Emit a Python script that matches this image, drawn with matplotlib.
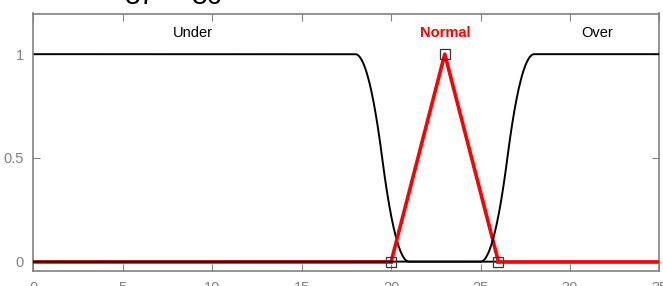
import matplotlib.pyplot as plt
import numpy as np

plt.rcParams['font.family'] = ['Liberation Sans', 'DejaVu Sans']

# membership function parameters
under_ab = [18, 21]        # zmf
normal_abc = [20, 23, 26]  # trimf
over_ab = [25, 28]         # smf
labels = ["Under", "Normal", "Over"]
label_x = [8.9, 23, 31.5]
xticks = [0, 5, 10, 15, 20, 25, 30, 35]
yticks = [0, 0.5, 1]
yticklabels = ["0", "0.5", "1"]


def zmf(x, a, b):
    y = np.ones_like(x)
    m = (a + b) / 2
    i1 = (x > a) & (x <= m)
    i2 = (x > m) & (x < b)
    y[i1] = 1 - 2 * ((x[i1] - a) / (b - a)) ** 2
    y[i2] = 2 * ((x[i2] - b) / (b - a)) ** 2
    y[x >= b] = 0
    return y


def smf(x, a, b):
    return 1 - zmf(x, a, b)


x = np.linspace(0, 35, 3501)
gray = "#808080"

fig = plt.figure(figsize=(6.63, 2.86), dpi=100)
ax = fig.add_axes([33.4 / 663, 15 / 286, 626 / 663, 257.5 / 286])

ax.plot(x, zmf(x, *under_ab), color="black", lw=1.4, zorder=2)
ax.plot(normal_abc, [0, 1, 0], color="red", lw=2.6, zorder=3)
ax.plot([0, normal_abc[0]], [0, 0], color="red", lw=2.6, zorder=3)
ax.plot([normal_abc[2], 35], [0, 0], color="red", lw=2.6, zorder=3)
ax.plot(x, smf(x, *over_ab), color="black", lw=1.4, zorder=4)
ax.plot(normal_abc, [0, 1, 0], ls="none", marker="s", ms=7,
        mfc="none", mec="#333333", mew=0.9, zorder=5)

for lab, lx in zip(labels, label_x):
    if lab == "Normal":
        ax.text(lx, 1.1, lab, color="red", fontweight="bold", fontsize=10.5,
                ha="center", va="center")
    else:
        ax.text(lx, 1.1, lab, color="black", fontsize=10.5,
                ha="center", va="center")

ax.set_xlim(0, 35)
ax.set_ylim(-0.045, 1.196)
ax.set_xticks(xticks)
ax.set_yticks(yticks)
ax.set_yticklabels(yticklabels)
ax.tick_params(direction="in", length=5, width=0.8, colors=gray,
               labelsize=10.5, top=True, right=True, pad=7)
for s in ax.spines.values():
    s.set_color(gray)
    s.set_linewidth(1.2)

# clipped text remnants above the plot
fig.text(140 / 663, 1 - 4 / 286, "37", fontsize=20, ha="center", va="baseline")
fig.text(207 / 663, 1 - 4 / 286, "36", fontsize=20, ha="center", va="baseline")

fig.savefig("out.png", dpi=100)
